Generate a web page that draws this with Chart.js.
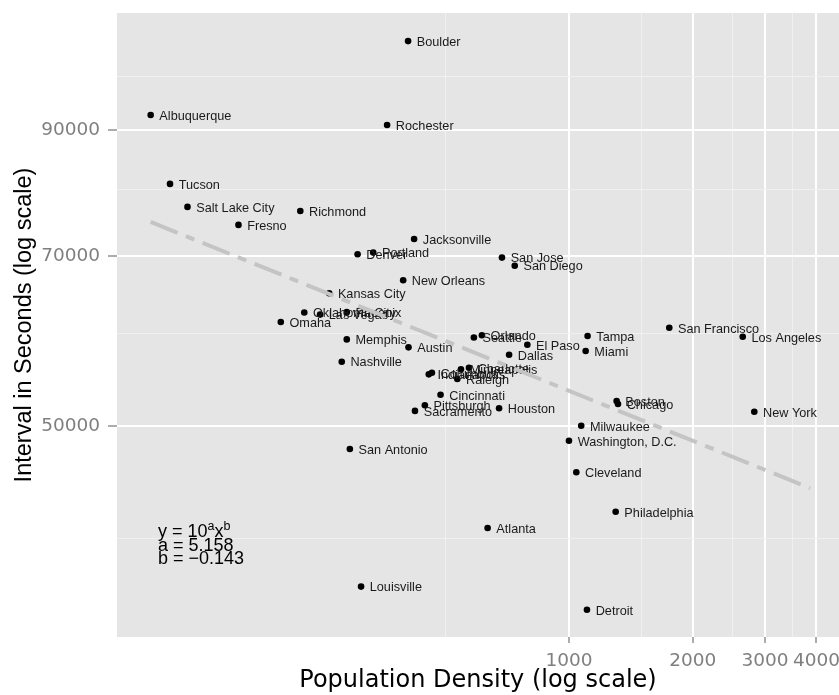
<!DOCTYPE html>
<html lang="en">
<head>
<meta charset="UTF-8">
<title>Interval vs Population Density</title>
<script src="https://cdn.jsdelivr.net/npm/chart.js"></script>
<style>
  html, body { margin: 0; padding: 0; background: #fff; }
  canvas { display: block; }
</style>
</head>
<body>
<canvas id="densityChart" width="839" height="695"></canvas>
<script>
const cities = ['Albuquerque', 'Atlanta', 'Austin', 'Boston', 'Boulder', 'Charlotte', 'Chicago',
  'Cincinnati', 'Cleveland', 'Columbus', 'Dallas', 'Denver', 'Detroit', 'El Paso', 'Fresno',
  'Houston', 'Indianapolis', 'Jacksonville', 'Kansas City', 'Las Vegas', 'Los Angeles',
  'Louisville', 'Memphis', 'Miami', 'Milwaukee', 'Minneapolis', 'Nashville', 'New Orleans',
  'New York', 'Oklahoma City', 'Omaha', 'Orlando', 'Philadelphia', 'Phoenix', 'Pittsburgh',
  'Portland', 'Raleigh', 'Richmond', 'Rochester', 'Sacramento', 'Salt Lake City', 'San Antonio',
  'San Diego', 'San Francisco', 'San Jose', 'Seattle', 'Tampa', 'Tucson', 'Washington, D.C.'];

// people per sq. km
const density = [96, 634, 407, 1306, 406, 571, 1316,
  487, 1042, 464, 715, 306, 1106, 792, 157,
  676, 456, 420, 261, 248, 2647,
  312, 288, 1098, 1071, 546, 280, 395,
  2824, 227, 199, 614, 1299, 288, 446,
  334, 535, 222, 361, 422, 118, 293,
  738, 1754, 687, 587, 1110, 107, 1000];

// seconds
const interval = [92700, 40800, 58420, 52510, 107350, 56100, 52210,
  53170, 45580, 55550, 57560, 70300, 34690, 58720, 74510,
  51760, 55370, 72460, 65050, 62350, 59670,
  36320, 59350, 58000, 49990, 55930, 56780, 66760,
  51410, 62600, 61430, 59850, 42140, 62650, 52070,
  70520, 54860, 76600, 90870, 51490, 77220, 47740,
  68710, 60740, 69820, 59570, 59750, 80830, 48530];

// fitted power law y = 10^a * x^b, drawn between these two ends
const fitA = 5.158;
const fitB = -0.143;
const fitX = [96, 3860];
const fitY = [74950, 44170];

const xMajorTicks = [1000, 2000, 3000, 4000];
const xMinorTicks = [500, 1500, 2500, 3500];
const yMajorTicks = [50000, 70000, 90000];
const yMinorTicks = [40000, 60000, 80000, 100000];

const eqAnchor = [100, 40000];

const majorX = new Set(xMajorTicks);
const majorY = new Set(yMajorTicks);

function isMajor(set, c) {
  return !!(c.tick && set.has(c.tick.value));
}

const panelBackground = {
  id: 'panelBackground',
  beforeDraw(chart) {
    const { ctx, chartArea: a } = chart;
    ctx.save();
    ctx.fillStyle = '#e5e5e5';
    ctx.fillRect(a.left, a.top, a.right - a.left, a.bottom - a.top);
    ctx.restore();
  }
};

// ggplot style text next to each point
const cityLabels = {
  id: 'cityLabels',
  afterDatasetDraw(chart, args) {
    if (args.index !== 1) return;
    const ctx = chart.ctx;
    ctx.save();
    ctx.font = '12.7px "Liberation Sans", Arial, sans-serif';
    ctx.fillStyle = '#1a1a1a';
    ctx.textBaseline = 'alphabetic';
    args.meta.data.forEach((pt, i) => {
      ctx.fillText(cities[i], pt.x + 8.7, pt.y + 4.8);
    });
    ctx.restore();
  }
};

const equation = {
  id: 'equation',
  afterDraw(chart) {
    const { ctx, scales } = chart;
    const px = scales.x.getPixelForValue(eqAnchor[0]);
    const base = scales.y.getPixelForValue(eqAnchor[1]) - 1;
    const big = '18px "Liberation Sans", Arial, sans-serif';
    const small = '12.5px "Liberation Sans", Arial, sans-serif';
    ctx.save();
    ctx.fillStyle = '#000';
    ctx.textBaseline = 'alphabetic';
    let cx = px;
    const run = (text, font, dy) => {
      ctx.font = font;
      ctx.fillText(text, cx, base + dy);
      cx += ctx.measureText(text).width;
    };
    run('y = 10', big, 0);
    run('a', small, -7);
    run('x', big, 0);
    run('b', small, -7);
    ctx.font = big;
    ctx.fillText('a = ' + fitA.toFixed(3), px, base + 14);
    ctx.fillText('b = \u2212' + Math.abs(fitB).toFixed(3), px, base + 27);
    ctx.restore();
  }
};

const ctx = document.getElementById('densityChart').getContext('2d');

new Chart(ctx, {
  type: 'scatter',
  data: {
    datasets: [
      {
        type: 'line',
        label: 'fit',
        data: fitX.map((x, i) => ({ x: x, y: fitY[i] })),
        borderColor: '#c4c4c4',
        borderWidth: 4,
        borderDash: [29, 9, 9, 9],
        borderCapStyle: 'butt',
        pointRadius: 0,
        fill: false,
        order: 0
      },
      {
        label: 'cities',
        data: cities.map((c, i) => ({ x: density[i], y: interval[i] })),
        backgroundColor: '#000',
        borderWidth: 0,
        pointRadius: 3.3,
        order: 1
      }
    ]
  },
  options: {
    responsive: false,
    animation: false,
    events: [],
    devicePixelRatio: 1,
    layout: { autoPadding: false, padding: { top: 13, left: 0, right: 0, bottom: 0 } },
    plugins: {
      legend: { display: false },
      tooltip: { enabled: false }
    },
    scales: {
      x: {
        type: 'logarithmic',
        min: 79.5,
        max: 4539,
        bounds: 'data',
        afterBuildTicks: s => {
          s.ticks = xMinorTicks.concat(xMajorTicks).sort((a, b) => a - b).map(v => ({ value: v }));
        },
        afterFit: s => {
          s.height = 58;
          s.paddingLeft = 0;
          s.paddingRight = 0;
        },
        border: { display: false },
        grid: {
          color: c => isMajor(majorX, c) ? '#ffffff' : '#f0f0f0',
          lineWidth: c => isMajor(majorX, c) ? 2 : 1,
          tickColor: c => isMajor(majorX, c) ? '#7f7f7f' : 'rgba(0,0,0,0)',
          tickWidth: 1.3,
          tickLength: 6
        },
        ticks: {
          autoSkip: false,
          maxRotation: 0,
          minRotation: 0,
          padding: 7,
          color: '#7f7f7f',
          font: { family: '"DejaVu Sans"', size: 18.5 },
          callback: v => majorX.has(v) ? String(v) : ''
        },
        title: {
          display: true,
          text: 'Population Density (log scale)',
          color: '#000',
          font: { family: '"DejaVu Sans"', size: 24 },
          padding: { top: 0, bottom: 0 }
        }
      },
      y: {
        type: 'logarithmic',
        min: 32860,
        max: 113510,
        bounds: 'data',
        afterBuildTicks: s => {
          s.ticks = yMinorTicks.concat(yMajorTicks).sort((a, b) => a - b).map(v => ({ value: v }));
        },
        afterFit: s => {
          s.width = 117;
          s.paddingTop = 0;
          s.paddingBottom = 0;
        },
        border: { display: false },
        grid: {
          color: c => isMajor(majorY, c) ? '#ffffff' : '#f0f0f0',
          lineWidth: c => isMajor(majorY, c) ? 2 : 1,
          tickColor: c => isMajor(majorY, c) ? '#7f7f7f' : 'rgba(0,0,0,0)',
          tickWidth: 1.3,
          tickLength: 9
        },
        ticks: {
          autoSkip: false,
          padding: 8,
          color: '#7f7f7f',
          font: { family: '"DejaVu Sans"', size: 18.5 },
          callback: v => majorY.has(v) ? String(v) : ''
        },
        title: {
          display: true,
          text: 'Interval in Seconds (log scale)',
          color: '#000',
          font: { family: '"Liberation Sans"', size: 23.5 },
          padding: { top: 10, bottom: 0 }
        }
      }
    }
  },
  plugins: [panelBackground, cityLabels, equation]
});
</script>
</body>
</html>
